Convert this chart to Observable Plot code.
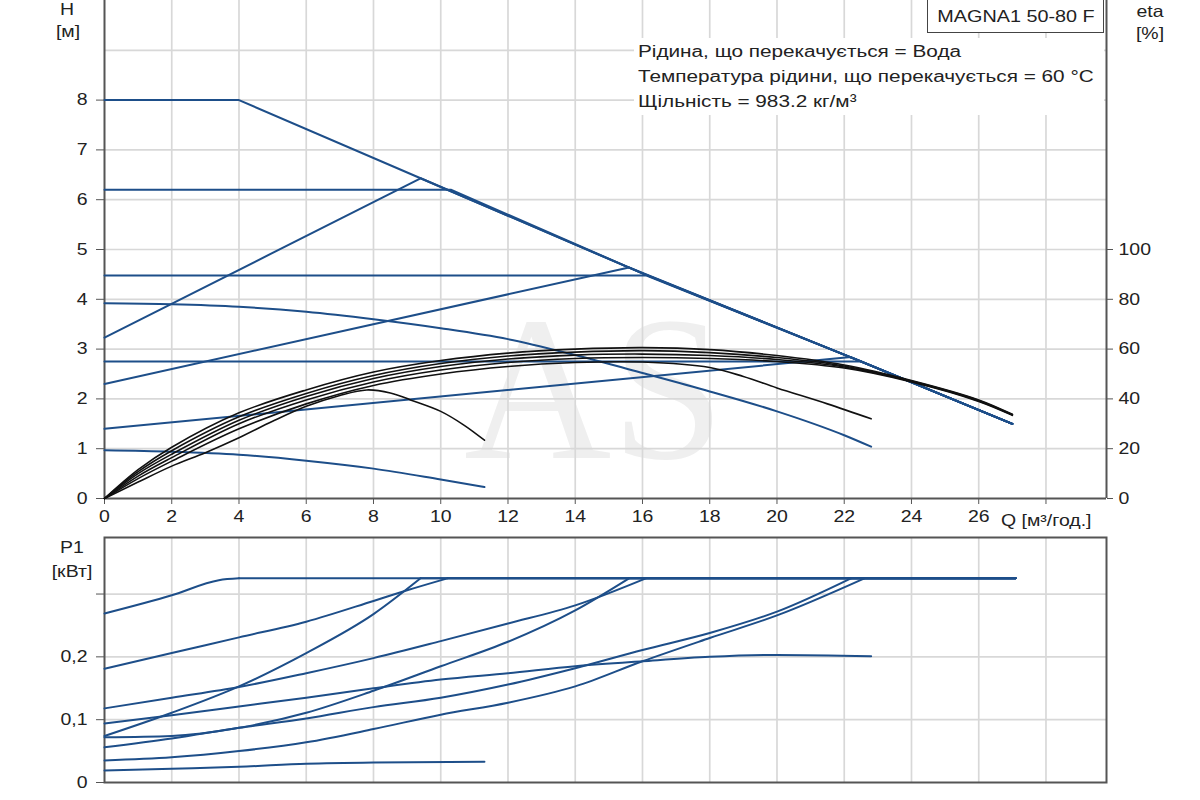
<!DOCTYPE html>
<html><head><meta charset="utf-8">
<script src="https://cdn.jsdelivr.net/npm/d3@7"></script>
<script src="https://cdn.jsdelivr.net/npm/@observablehq/plot@0.6"></script>
<style>
body{margin:0;background:#fff;font-family:"Liberation Sans",Arial,sans-serif;}
#wrap{position:relative;width:1200px;height:800px;overflow:hidden;background:#fff;}
.lbl{position:absolute;font-size:16.5px;color:#222;white-space:nowrap;line-height:1;}
#wrap svg{position:absolute;left:0;}
</style></head><body><div id="wrap"></div>
<script>
// ---- axes / ticks ----
const qTicks = [0,2,4,6,8,10,12,14,16,18,20,22,24,26,28];
const qLabels = ["0","2","4","6","8","10","12","14","16","18","20","22","24","26",""];
const hTicks = [0,1,2,3,4,5,6,7,8];
const hGrid = [1,2,3,4,5,6,7,8,9];
const etaTicks = [0,20,40,60,80,100];
const pTicks = [0,0.1,0.2,0.3];
const pLabels = ["0","0,1","0,2",""];
const pGrid = [0.1,0.2,0.3];

// ---- H curves [Q m3/h, H m] ----
const hMax = [[0,8],[4,8],[9.4,6.43],[16,4.52],[22.4,2.78],[27,1.5]];
const hConst62 = [[0,6.2],[10.3,6.2],[16,4.52],[22.4,2.78],[27,1.5]];
const hConst45 = [[0,4.48],[16.1,4.48],[22.4,2.78],[27,1.5]];
const hConst275 = [[0,2.75],[22.5,2.75],[27,1.5]];
const hProp1 = [[0,3.23],[9.4,6.43],[16,4.52],[22.4,2.78],[27,1.5]];
const hProp2 = [[0,2.3],[15.6,4.64],[22.4,2.78],[27,1.5]];
const hProp3 = [[0,1.4],[22.2,2.84],[27,1.5]];
const hSpeedMid = [[0,3.92],[2,3.9],[4,3.85],[6,3.75],[8,3.6],[10,3.42],[12,3.2],[14,2.88],[16,2.52],[18,2.15],[20,1.75],[22,1.27],[22.8,1.04]];
const hSpeedLow = [[0,0.97],[2,0.94],[4,0.88],[6,0.76],[8,0.6],[10,0.38],[11.3,0.23]];

// ---- efficiency curves [Q, eta %] ----
const eta1 = [[0,0],[1,6.6],[2,13],[3,18.4],[4,24.4],[5,31],[6,37],[7,41.4],[7.8,43.6],[8.5,42.4],[9.1,39.6],[10,35],[10.7,29.4],[11.3,23.4]];
const eta2 = [[0,0],[1,8],[2,15],[4,28],[6,38],[8,45.4],[10,50],[12,53],[14,54.6],[16,54.8],[18,52.6],[19,49],[20,44.4],[21.5,38],[22.8,32]];
const eta3 = [[0,0],[1,9],[2,16.4],[4,30],[6,39.6],[8,46.8],[10,51.6],[12,54.6],[14,56.2],[16,56.6],[18,56.2],[20,55],[22,52.4],[24,46.8],[26,39],[27,33.4]];
const eta4 = [[0,0],[1,10],[2,17.8],[4,31.4],[6,41],[8,48.2],[10,53],[12,56],[14,57.6],[16,58],[18,57.4],[20,55.8],[22,52.8],[24,47],[26,39.2],[27,33.6]];
const eta5 = [[0,0],[1,10.8],[2,19.2],[4,32.8],[6,42.2],[8,49.4],[10,54.2],[12,57.2],[14,58.8],[16,59.4],[18,58.6],[20,56.6],[22,53.2],[24,47.2],[26,39.4],[27,33.6]];
const eta6 = [[0,0],[1,11.6],[2,20.6],[4,34.4],[6,43.6],[8,50.8],[10,55.4],[12,58.4],[14,60],[16,60.6],[18,59.8],[20,57.4],[22,53.6],[24,47.4],[26,39.6],[27,33.8]];

// ---- power curves [Q, P1 kW] ----
const pMax = [[0,0.269],[2,0.298],[3.4,0.322],[4,0.325],[27.1,0.325]];
const pConst62 = [[0,0.181],[2,0.206],[4,0.231],[6,0.256],[8,0.289],[9,0.306],[10.2,0.325],[27.1,0.325]];
const pProp1 = [[0,0.074],[2,0.111],[4,0.153],[6,0.206],[8,0.268],[9.4,0.325],[27.1,0.325]];
const pConst45 = [[0,0.118],[2,0.135],[4,0.152],[6,0.174],[8,0.198],[10,0.225],[12,0.253],[14,0.282],[16.1,0.325],[27.1,0.325]];
const pSpeedMid = [[0,0.094],[2,0.107],[4,0.121],[6,0.135],[8,0.15],[10,0.164],[12,0.174],[14,0.185],[16,0.193],[18,0.2],[20,0.203],[22.8,0.201]];
const pProp2 = [[0,0.072],[2,0.074],[4,0.087],[6,0.111],[8,0.146],[10,0.185],[12,0.224],[14,0.274],[15.6,0.325],[27.1,0.325]];
const pConst275 = [[0,0.056],[2,0.07],[4,0.087],[6,0.102],[8,0.12],[10,0.135],[12,0.156],[14,0.182],[16,0.211],[18,0.238],[20,0.272],[22.2,0.325],[27.1,0.325]];
const pProp3 = [[0,0.035],[2,0.04],[4,0.05],[6,0.064],[8,0.085],[10,0.108],[12,0.127],[14,0.153],[16,0.193],[18,0.23],[20,0.266],[22.6,0.325],[27.1,0.325]];
const pSpeedLow = [[0,0.019],[2,0.022],[4,0.025],[6,0.03],[8,0.032],[11.3,0.033]];

const BLUE = "#1d4e89", BLACK = "#111", GRID = "#d8d8d8", AXIS = "#555";
const FONT = "Liberation Sans, Arial, sans-serif";
const STRETCH = 1.18; // reference text is drawn horizontally widened

const hStraight = [hMax,hConst62,hConst45,hConst275,hProp1,hProp2,hProp3];
const hCurved = [hSpeedMid,hSpeedLow];
const etaCurves = [eta1,eta2,eta3,eta4,eta5,eta6];
const pCurves = [pMax,pConst62,pProp1,pConst45,pSpeedMid,pProp2,pConst275,pProp3,pSpeedLow];
const pLimit = 0.325;
// split each power curve into its rising part and the flat limit part
const pRise = pCurves.map(c => { const k = c.findIndex(d => d[1] >= pLimit); return k < 0 ? c : c.slice(0, k + 1); });
const pFlat = pCurves.map(c => { const k = c.findIndex(d => d[1] >= pLimit); return k < 0 ? [] : c.slice(k); }).filter(c => c.length > 1);

const qLab = new Map(qTicks.map((t,i)=>[t,qLabels[i]]));
const etaLab = new Map(etaTicks.map(e=>[e/20,String(e)]));
const pLab = new Map(pTicks.map((t,i)=>[t,pLabels[i]]));

const common = {width:1200, marginLeft:104, marginRight:94,
  style:{fontFamily:FONT, fontSize:"16.5px", color:"#222", background:"transparent", overflow:"visible"}};

const topPlot = Plot.plot({
  ...common, height:536, marginTop:0, marginBottom:38,
  x:{domain:[0,29.8], axis:null}, y:{domain:[0,10], axis:null},
  marks:[
    Plot.gridX(qTicks.slice(1), {stroke:GRID, strokeOpacity:1, strokeWidth:1.7}),
    Plot.gridY(hGrid, {stroke:GRID, strokeOpacity:1, strokeWidth:1.7}),
    Plot.axisX(qTicks, {tickSize:6, tickPadding:6, tickFormat:d=>qLab.get(d), label:null, stroke:AXIS}),
    Plot.axisY(hTicks, {anchor:"left", tickSize:8, tickPadding:9, tickFormat:d=>String(d), label:null, stroke:AXIS}),
    Plot.axisY(etaTicks.map(e=>e/20), {anchor:"right", tickSize:6, tickPadding:6, tickFormat:d=>etaLab.get(d), label:null, stroke:AXIS}),
    Plot.ruleX([0, 29.8], {stroke:AXIS, strokeWidth:2}),
    Plot.ruleY([0], {stroke:AXIS, strokeWidth:2}),
    ...hStraight.map(c=>Plot.line(c, {x:d=>d[0], y:d=>d[1], stroke:BLUE, strokeWidth:2})),
    ...hCurved.map(c=>Plot.line(c, {x:d=>d[0], y:d=>d[1], stroke:BLUE, strokeWidth:2, curve:"monotone-x"})),
    ...etaCurves.map(c=>Plot.line(c, {x:d=>d[0], y:d=>d[1]/20, stroke:BLACK, strokeWidth:1.6, curve:"catmull-rom"}))
  ]
});

const botPlot = Plot.plot({
  ...common, height:264, marginTop:1, marginBottom:18,
  x:{domain:[0,29.8], axis:null}, y:{domain:[0,0.39], axis:null},
  marks:[
    Plot.gridX(qTicks.slice(1), {stroke:GRID, strokeOpacity:1, strokeWidth:1.7}),
    Plot.gridY(pGrid, {stroke:GRID, strokeOpacity:1, strokeWidth:1.7}),
    Plot.axisY(pTicks, {anchor:"left", tickSize:8, tickPadding:9, tickFormat:d=>pLab.get(d), label:null, stroke:AXIS}),
    Plot.frame({stroke:AXIS, strokeWidth:2}),
    ...pRise.map(c=>Plot.line(c, {x:d=>d[0], y:d=>d[1], stroke:BLUE, strokeWidth:2, curve:"monotone-x"})),
    ...pFlat.map(c=>Plot.line(c, {x:d=>d[0], y:d=>d[1], stroke:BLUE, strokeWidth:2}))
  ]
});

// widen SVG tick labels about their anchor
[topPlot, botPlot].forEach(svg => {
  svg.querySelectorAll("text").forEach(t => {
    const x = +(t.getAttribute("x") || 0);
    const tr = t.getAttribute("transform") || "";
    t.setAttribute("transform", `${tr} translate(${x},0) scale(${STRETCH},1) translate(${-x},0)`);
  });
});

const wrap = document.getElementById("wrap");

// faint watermark, behind the chart
const wm = document.createElement("div");
Object.assign(wm.style, {position:"absolute", left:"464px", top:"286px", height:"206px", fontFamily:"Liberation Serif, serif",
  fontSize:"206px", lineHeight:"206px", color:"#efefef", transform:"scaleX(0.99)", transformOrigin:"left top", whiteSpace:"nowrap"});
wm.textContent = "AS";
wrap.appendChild(wm);

topPlot.style.top = "0px";
botPlot.style.top = "536px";
wrap.appendChild(topPlot);
wrap.appendChild(botPlot);

function label(text, x, y, opts={}) {
  const el = document.createElement("div");
  el.className = "lbl";
  el.textContent = text;
  el.style.left = x + "px";
  el.style.top = y + "px";
  const s = opts.stretch || STRETCH;
  if (opts.center) { el.style.transform = `translate(-50%,-50%) scaleX(${s})`; }
  else { el.style.transformOrigin = "left center"; el.style.transform = `translate(0,-50%) scaleX(${s})`; }
  if (opts.size) el.style.fontSize = opts.size + "px";
  wrap.appendChild(el);
  return el;
}

// white panel behind the info text
const panel = document.createElement("div");
Object.assign(panel.style, {position:"absolute", left:"634px", top:"38px", width:"470px", height:"77px", background:"#fff"});
wrap.appendChild(panel);

// model box
const box = document.createElement("div");
Object.assign(box.style, {position:"absolute", left:"927px", top:"-2px", width:"175px", height:"33px",
  border:"1.5px solid #444", background:"#fff"});
wrap.appendChild(box);
label("MAGNA1 50-80 F", 1016, 17, {center:true, size:16.8});

const infoLines = ["Рідина, що перекачується = Вода", "Температура рідини, що перекачується = 60 °C", "Щільність = 983.2 кг/м³"];
infoLines.forEach((t,i)=>label(t, 638, 52 + i*25, {size:17.3, stretch:1.2}));

label("H", 67, 9, {center:true});
label("[м]", 68, 31, {center:true});
label("eta", 1150, 11, {center:true});
label("[%]", 1150, 33, {center:true});
label("Q [м³/год.]", 1001, 520);
label("P1", 72, 547, {center:true});
label("[кВт]", 72, 571, {center:true});
</script></body></html>
